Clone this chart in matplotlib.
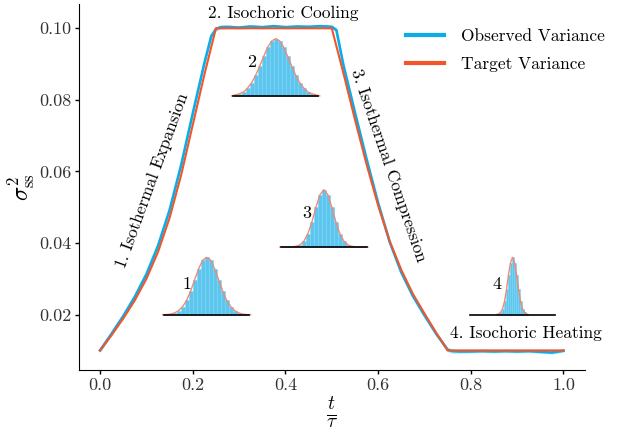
import numpy as np
import matplotlib
matplotlib.use("Agg")
import matplotlib.pyplot as plt

plt.rcParams['font.family'] = 'serif'
plt.rcParams['font.serif'] = ['cmr10']
plt.rcParams['mathtext.fontset'] = 'cm'
plt.rcParams['axes.formatter.use_mathtext'] = True
plt.rcParams['font.size'] = 12

# target variance protocol (t / tau, sigma^2)
t_target = [0.0, 0.025, 0.05, 0.075, 0.10, 0.125, 0.15, 0.175, 0.20, 0.225, 0.25,
            0.50, 0.525, 0.55, 0.575, 0.60, 0.625, 0.65, 0.675, 0.70, 0.725, 0.75, 1.0]
var_target = [0.0100, 0.0143, 0.0189, 0.0240, 0.0300, 0.0375, 0.0470, 0.0590, 0.0730, 0.0870, 0.1000,
              0.1000, 0.0875, 0.0745, 0.0620, 0.0505, 0.0405, 0.0325, 0.0258, 0.0203, 0.0150, 0.0100, 0.0100]

# observed variance (mean over trajectories) and its spread
t_obs = [0.0, 0.025, 0.05, 0.075, 0.10, 0.125, 0.15, 0.175, 0.20, 0.225, 0.24, 0.25, 0.26,
         0.275, 0.30, 0.325, 0.35, 0.375, 0.40, 0.425, 0.45, 0.475, 0.50, 0.51,
         0.525, 0.55, 0.575, 0.60, 0.625, 0.65, 0.675, 0.70, 0.725, 0.75, 0.76,
         0.775, 0.80, 0.825, 0.85, 0.875, 0.90, 0.925, 0.95, 0.975, 1.0]
var_obs = [0.0100, 0.0147, 0.0196, 0.0250, 0.0313, 0.0392, 0.0492, 0.0618, 0.0762, 0.0902, 0.0978, 0.0998, 0.1003,
           0.1004, 0.1002, 0.1005, 0.1003, 0.1006, 0.1003, 0.1005, 0.1004, 0.1006, 0.1004, 0.0995,
           0.0898, 0.0765, 0.0635, 0.0512, 0.0403, 0.0318, 0.0252, 0.0198, 0.0147, 0.0102, 0.0098,
           0.0097, 0.0097, 0.0098, 0.0097, 0.0098, 0.0097, 0.0098, 0.0096, 0.0094, 0.0099]
spread_obs = [0.0006, 0.0005, 0.0004, 0.0004, 0.0004, 0.0004, 0.0004, 0.0004, 0.0004, 0.0005, 0.0006, 0.0006, 0.0006,
              0.0005, 0.0005, 0.0005, 0.0005, 0.0005, 0.0005, 0.0005, 0.0005, 0.0005, 0.0006, 0.0006,
              0.0005, 0.0004, 0.0004, 0.0004, 0.0004, 0.0004, 0.0004, 0.0004, 0.0005, 0.0006, 0.0006,
              0.0005, 0.0004, 0.0004, 0.0004, 0.0004, 0.0004, 0.0004, 0.0004, 0.0004, 0.0004]

# position histograms at the four corners of the cycle (relative counts)
hist_labels = ['1', '2', '3', '4']
hist_center = [0.230, 0.379, 0.483, 0.890]
hist_base = [0.0200, 0.0811, 0.0389, 0.0200]
hist_binw = [0.00864, 0.00864, 0.00864, 0.00432]
hist_counts = [
    [0.00, 0.01, 0.03, 0.07, 0.14, 0.25, 0.41, 0.61, 0.80, 0.95, 1.00, 0.95, 0.80, 0.61, 0.41, 0.25, 0.14, 0.07, 0.03, 0.01, 0.00],
    [0.02, 0.04, 0.07, 0.14, 0.23, 0.36, 0.52, 0.69, 0.85, 0.96, 1.00, 0.96, 0.85, 0.69, 0.52, 0.36, 0.23, 0.14, 0.07, 0.04, 0.02],
    [0.00, 0.00, 0.003, 0.011, 0.036, 0.10, 0.23, 0.435, 0.69, 0.91, 1.00, 0.91, 0.69, 0.435, 0.23, 0.10, 0.036, 0.011, 0.003, 0.00, 0.00],
    [0.012, 0.038, 0.10, 0.23, 0.44, 0.70, 0.91, 1.00, 0.91, 0.70, 0.44, 0.23, 0.10, 0.038, 0.012],
]
hist_label_pos = [(0.188, 0.0286), (0.326, 0.0906), (0.445, 0.0484), (0.857, 0.0286)]

c_obs = '#0AADE8'
c_target = '#F2552A'
c_band = '#BFE8F8'
c_bar = '#5CC6EF'

fig = plt.figure(figsize=(6.2, 4.38), dpi=100)
ax = fig.add_axes([0.127, 0.155, 0.817, 0.836])

lo = np.array(var_obs) - np.array(spread_obs)
hi = np.array(var_obs) + np.array(spread_obs)
ax.fill_between(t_obs, lo, hi, color=c_band, lw=0, zorder=1)
ax.plot(t_obs, var_obs, color=c_obs, lw=1.9, label='Observed Variance', zorder=2)
ax.plot(t_target, var_target, color=c_target, lw=1.5, label='Target Variance', zorder=3)

# inset histograms drawn in data coordinates
peak_h = 0.016
half_span = 0.092
for lab, c, b, w, counts, (lx, ly) in zip(hist_labels, hist_center, hist_base, hist_binw,
                                          hist_counts, hist_label_pos):
    n = len(counts)
    xs = c + (np.arange(n) - n // 2) * w
    hs = np.array(counts) * peak_h
    ax.bar(xs, hs, width=w, bottom=b, color=c_bar, edgecolor='#7DD3F3', linewidth=0.4, zorder=4)
    ax.plot(np.r_[xs[0] - w, xs, xs[-1] + w], b + np.r_[0, hs, 0], color='#F08A78', lw=1.0, zorder=5)
    ax.plot([c - half_span, c + half_span], [b, b], color='black', lw=1.2, zorder=6)
    ax.text(lx, ly, lab, ha='center', va='center', fontsize=13)

# stage annotations
ax.text(0.395, 0.1043, '2. Isochoric Cooling', ha='center', va='center', fontsize=12.5)
ax.text(0.920, 0.0148, '4. Isochoric Heating', ha='center', va='center', fontsize=12.5, clip_on=False)
ax.text(0.112, 0.0576, '1. Isothermal Expansion', ha='center', va='center', rotation=70,
        rotation_mode='anchor', fontsize=12.5)
ax.text(0.622, 0.0618, '3. Isothermal Compression', ha='center', va='center', rotation=-71,
        rotation_mode='anchor', fontsize=12.5)

ax.set_xlim(-0.046, 1.047)
ax.set_ylim(0.0045, 0.1068)
ax.set_xticks([0.0, 0.2, 0.4, 0.6, 0.8, 1.0])
ax.set_yticks([0.02, 0.04, 0.06, 0.08, 0.10])
ax.set_xticklabels(['0.0', '0.2', '0.4', '0.6', '0.8', '1.0'])
ax.set_yticklabels(['0.02', '0.04', '0.06', '0.08', '0.10'])
ax.set_xlabel(r'$\frac{t}{\tau}$', fontsize=20, labelpad=2)
ax.set_ylabel(r'$\sigma^2_{\mathrm{ss}}$', fontsize=17)
ax.yaxis.set_label_coords(-0.083, 0.5)
ax.spines['top'].set_visible(False)
ax.spines['right'].set_visible(False)
ax.tick_params(direction='out', length=3, width=1, pad=2.5, labelsize=13, colors='#333333')
ax.tick_params(color='black')

leg = ax.legend(loc='upper right', bbox_to_anchor=(1.07, 0.975), frameon=False, fontsize=12.5,
                handlelength=2.2, handletextpad=1.0, labelspacing=0.75)
for h in leg.get_lines():
    h.set_linewidth(3)

fig.savefig('out.png', dpi=100)
